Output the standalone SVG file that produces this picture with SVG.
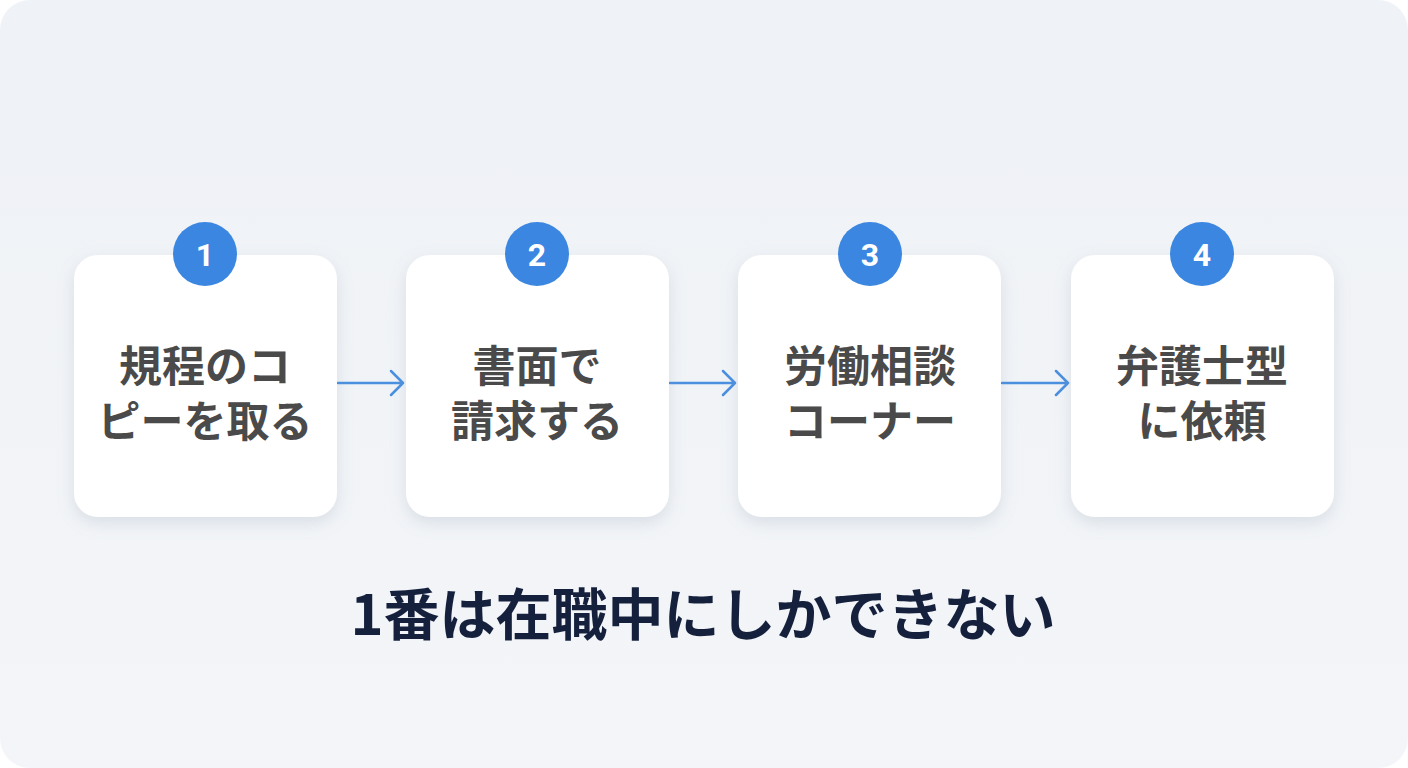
<svg xmlns="http://www.w3.org/2000/svg" width="1408" height="768" viewBox="0 0 1408 768">
<style>
.card{fill:#ffffff;}
.badge{fill:#3a86e0;}
.num{font-family:"Roboto","Liberation Sans",sans-serif;font-weight:700;font-size:32px;fill:#ffffff;text-anchor:middle;}
.lbl{font-family:"Noto Sans CJK JP","Noto Sans CJK SC",sans-serif;font-weight:700;font-size:43px;fill:#4a4a4a;text-anchor:middle;}
.note{font-family:"Noto Sans CJK JP","Noto Sans CJK SC",sans-serif;font-weight:700;font-size:56px;fill:#14203c;text-anchor:middle;}
.conn{stroke:#4a8fe0;stroke-width:2.5;fill:none;stroke-linecap:round;stroke-linejoin:round;}
</style>
<defs>
<filter id="sh" x="-20%" y="-20%" width="140%" height="150%">
<feDropShadow dx="0" dy="6" stdDeviation="8" flood-color="#8090a8" flood-opacity="0.22"/>
</filter>
<linearGradient id="bg" x1="0" y1="0" x2="0" y2="1">
<stop offset="0" stop-color="#eff2f6"/>
<stop offset="1" stop-color="#f3f5f8"/>
</linearGradient>
</defs>
<rect x="0" y="0" width="1408" height="768" fill="#ffffff"/>
<rect x="0" y="0" width="1408" height="768" rx="30" fill="url(#bg)"/>
<g id="connectors">
<path class="conn" d="M338 383 H403 M391 371 L403 383 L391 395"/>
<path class="conn" d="M670 383 H735 M723 371 L735 383 L723 395"/>
<path class="conn" d="M1002 383 H1068 M1056 371 L1068 383 L1056 395"/>
</g>
<g id="step1">
<rect class="card" x="74" y="255" width="263" height="262" rx="24" filter="url(#sh)"/>
<circle class="badge" cx="205" cy="254" r="32"/>
<text class="num" x="205" y="266">1</text>
<text class="lbl" x="205" y="382">規程のコ</text>
<text class="lbl" x="205" y="437">ピーを取る</text>
</g>
<g id="step2">
<rect class="card" x="406" y="255" width="263" height="262" rx="24" filter="url(#sh)"/>
<circle class="badge" cx="537" cy="254" r="32"/>
<text class="num" x="537" y="266">2</text>
<text class="lbl" x="537" y="382">書面で</text>
<text class="lbl" x="537" y="437">請求する</text>
</g>
<g id="step3">
<rect class="card" x="738" y="255" width="263" height="262" rx="24" filter="url(#sh)"/>
<circle class="badge" cx="870" cy="254" r="32"/>
<text class="num" x="870" y="266">3</text>
<text class="lbl" x="870" y="382">労働相談</text>
<text class="lbl" x="870" y="437">コーナー</text>
</g>
<g id="step4">
<rect class="card" x="1071" y="255" width="263" height="262" rx="24" filter="url(#sh)"/>
<circle class="badge" cx="1202" cy="254" r="32"/>
<text class="num" x="1202" y="266">4</text>
<text class="lbl" x="1202" y="382">弁護士型</text>
<text class="lbl" x="1202" y="437">に依頼</text>
</g>
<g id="note">
<text class="note" x="703" y="635">1番は在職中にしかできない</text>
</g>
</svg>
